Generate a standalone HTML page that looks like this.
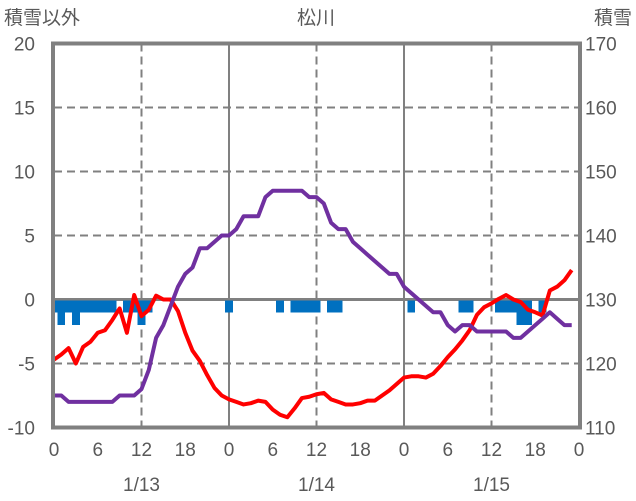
<!DOCTYPE html>
<html><head><meta charset="utf-8">
<style>
html,body{margin:0;padding:0;background:#fff;}
svg{display:block;}
text{font-family:"Liberation Sans","Noto Sans CJK JP",sans-serif;fill:#595959;}
</style></head>
<body>
<svg id="chart" width="636" height="501" viewBox="0 0 636 501">
<g id="grid"></g>
<g id="bars"></g>
<g id="lines"></g>
<g id="frame"></g>
<g id="labels"></g>
<text x="316" y="24" font-size="19" text-anchor="middle">松川</text>
<text x="4" y="24" font-size="19">積雪以外</text>
<text x="632" y="24" font-size="19" text-anchor="end">積雪</text>
</svg>
<script>
const leftTicks = [20, 15, 10, 5, 0, -5, -10];
const rightTicks = [170, 160, 150, 140, 130, 120, 110];
const hourTicks = ["0","6","12","18","0","6","12","18","0","6","12","18","0"];
const dateLabels = ["1/13","1/14","1/15"];
const temperature = [-4.7,-4.3,-3.8,-5,-3.7,-3.3,-2.6,-2.4,-1.6,-0.7,-2.6,0.35,-1.3,-0.8,0.3,0,0,-0.9,-2.6,-4,-4.8,-5.9,-6.9,-7.5,-7.8,-8,-8.2,-8.1,-7.9,-8,-8.6,-9,-9.2,-8.5,-7.7,-7.6,-7.4,-7.3,-7.8,-8,-8.2,-8.2,-8.1,-7.9,-7.9,-7.5,-7.1,-6.6,-6.1,-6,-6,-6.1,-5.8,-5.2,-4.5,-3.9,-3.2,-2.4,-1.2,-0.6,-0.3,0.05,0.35,0,-0.2,-0.8,-1,-1.25,0.7,1,1.5,2.3];
const snowDepth = [115,115,114,114,114,114,114,114,114,115,115,115,116,119,124,126,129,132,134,135,138,138,139,140,140,141,143,143,143,146,147,147,147,147,147,146,146,145,142,141,141,139,138,137,136,135,134,134,132,131,130,129,128,128,126,125,126,126,125,125,125,125,125,124,124,125,126,127,128,127,126,126];
const precip = [1,2,1,2,1,1,1,1,1,0,1,1,2,1,0,0,0,0,0,0,0,0,0,0,1,0,0,0,0,0,0,1,0,1,1,1,1,0,1,1,0,0,0,0,0,0,0,0,0,1,0,0,0,0,0,0,1,1,0,0,0,1,1,1,2,2,0,1,0,0,0,0];

const X0=54, X1=579, Y0=43.5, Y1=427.5;
const NS="http://www.w3.org/2000/svg";
function xs(h){return X0+(X1-X0)*h/72;}
function yl(v){return Y1-(v+10)*(Y1-Y0)/30;}
function yr(v){return Y1-(v-110)*(Y1-Y0)/60;}
function mk(tag,attrs,parent){const e=document.createElementNS(NS,tag);for(const k in attrs)e.setAttribute(k,attrs[k]);document.getElementById(parent).appendChild(e);return e;}

leftTicks.forEach(v=>{
  if(v===20||v===-10)return;
  const l=mk('line',{x1:X0,x2:X1,y1:yl(v),y2:yl(v),stroke:'#808080','stroke-width':v===0?3:2,'stroke-dasharray':v===0?'none':'8,5'},'grid');
  
  
});
for(let h=12;h<72;h+=12){
  const solid=(h%24===0);
  const l=mk('line',{x1:xs(h),x2:xs(h),y1:Y0,y2:Y1,stroke:'#808080','stroke-width':2,'stroke-dasharray':solid?'none':'8,5'},'grid');
  
  
}
precip.forEach((p,i)=>{
  if(!p)return;
  const xa=Math.max(X0,xs(i-0.5)-0.3), xb=xs(i+0.5)+0.3;
  const r=mk('rect',{x:xa,y:yl(0)+1,width:xb-xa,height:yl(-p)-yl(0)-1,fill:'#0070C0','shape-rendering':'crispEdges'},'bars');
  
  
});
const tp=mk('polyline',{points:temperature.map((v,i)=>xs(i)+','+yl(v)).join(' '),fill:'none',stroke:'#FF0000','stroke-width':4,'stroke-linejoin':'round'},'lines');


const sp=mk('polyline',{points:snowDepth.map((v,i)=>xs(i)+','+yr(v)).join(' '),fill:'none',stroke:'#7030A0','stroke-width':4,'stroke-linejoin':'round'},'lines');


const fr=mk('rect',{x:X0-1,y:Y0,width:X1-X0+2,height:Y1-Y0,fill:'none',stroke:'#808080','stroke-width':4},'frame');


leftTicks.forEach(v=>{
  const t=mk('text',{x:35,y:yl(v)+7,'font-size':19,'text-anchor':'end'},'labels');
  t.textContent=v;
  
  
});
rightTicks.forEach(v=>{
  const t=mk('text',{x:585,y:yr(v)+7,'font-size':19},'labels');
  t.textContent=v;
  
  
});
hourTicks.forEach((s,i)=>{
  const t=mk('text',{x:xs(i*6),y:456,'font-size':19,'text-anchor':'middle'},'labels');
  t.textContent=s;
  
  
});
dateLabels.forEach((s,i)=>{
  const t=mk('text',{x:xs(12+24*i),y:491,'font-size':19,'text-anchor':'middle'},'labels');
  t.textContent=s;
  
  
});
</script>
</body></html>
